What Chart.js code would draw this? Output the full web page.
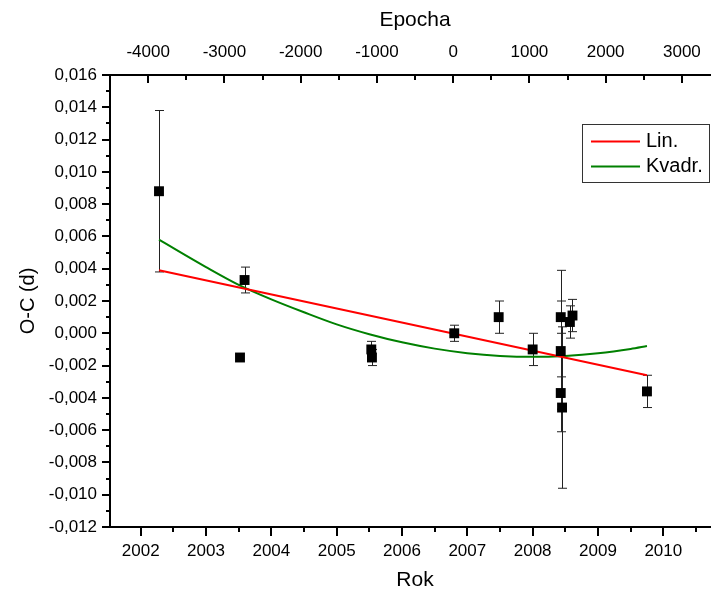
<!DOCTYPE html>
<html>
<head>
<meta charset="utf-8">
<script src="https://cdn.jsdelivr.net/npm/chart.js@4.4.1/dist/chart.umd.min.js"></script>
<style>
  html, body { margin: 0; padding: 0; background: #fff; }
  #wrap { width: 711px; height: 594px; overflow: hidden; }
  canvas { display: block; }
</style>
</head>
<body>
<div id="wrap"><canvas id="ocChart" width="730" height="594"></canvas></div>
<script>
// mereni O-C (rok, hodnota, chyba)
const years = [2002.28, 2003.52, 2003.59, 2005.53, 2005.54, 2006.80, 2007.48, 2008.00, 2008.43, 2008.43, 2008.43, 2008.45, 2008.57, 2008.61, 2009.75];
const ocValues = [0.0088, -0.0015, 0.0033, -0.0010, -0.0015, 0.0000, 0.0010, -0.0010, 0.0010, -0.0011, -0.0037, -0.0046, 0.0007, 0.0011, -0.0036];
const ocErrors = [0.0050, 0, 0.0008, 0.0005, 0.0005, 0.0005, 0.0010, 0.0010, 0.0010, 0.0050, 0.0010, 0.0050, 0.0010, 0.0010, 0.0010];

// linearni fit
const linYears = [2002.28, 2009.75];
const linValues = [0.0039, -0.0026];

// kvadraticky fit
const quadYears = [2002.28, 2003.0, 2003.5, 2004.0, 2004.5, 2005.0, 2005.5, 2006.0, 2006.5, 2007.0, 2007.5, 2008.0, 2008.5, 2009.0, 2009.5, 2009.75];
const quadValues = [0.0058, 0.0041, 0.0030, 0.0021, 0.0013, 0.00055, -0.00006, -0.00056, -0.00095, -0.00123, -0.0014, -0.00146, -0.0014, -0.00124, -0.00097, -0.00079];

// osy
const yearRange = [2001.53, 2010.868];
const epochRange = [-4500, 3500];
const ocRange = [-0.012, 0.016];
const yearTicks = [2002, 2003, 2004, 2005, 2006, 2007, 2008, 2009, 2010];
const epochTicks = [-4000, -3000, -2000, -1000, 0, 1000, 2000, 3000];
const ocTicks = [-0.012, -0.010, -0.008, -0.006, -0.004, -0.002, 0, 0.002, 0.004, 0.006, 0.008, 0.010, 0.012, 0.014, 0.016];

const fmtOC = v => (Math.round(v * 1000) / 1000).toFixed(3).replace('.', ',');

Chart.defaults.font.family = '"Liberation Sans", Arial, sans-serif';
Chart.defaults.color = '#000';

const errorBars = {
  id: 'errorBars',
  beforeDatasetsDraw(chart) {
    const { ctx, scales: { x, y } } = chart;
    ctx.save();
    ctx.strokeStyle = '#222';
    ctx.lineWidth = 1;
    years.forEach((yr, i) => {
      if (!ocErrors[i]) return;
      const px = Math.round(x.getPixelForValue(yr)) + 0.5;
      const top = y.getPixelForValue(ocValues[i] + ocErrors[i]);
      const bot = y.getPixelForValue(ocValues[i] - ocErrors[i]);
      ctx.beginPath();
      ctx.moveTo(px, top); ctx.lineTo(px, bot);
      ctx.moveTo(px - 4.5, top); ctx.lineTo(px + 4.5, top);
      ctx.moveTo(px - 4.5, bot); ctx.lineTo(px + 4.5, bot);
      ctx.stroke();
    });
    ctx.restore();
  }
};

// hlavni a vedlejsi znacky na osach
const tickMarks = {
  id: 'tickMarks',
  afterDraw(chart) {
    const { ctx, chartArea: a, scales } = chart;
    ctx.save();
    ctx.strokeStyle = '#000';
    ctx.lineWidth = 2;
    ctx.beginPath();
    const each = (s, cb) => {
      const first = s.ticks[0].value;
      const step = s.ticks[1].value - first;
      const half = step / 2;
      let v = first - half * Math.floor((first - s.min) / half + 1e-9);
      for (; v <= s.max + 1e-9; v += half) {
        const k = (v - first) / step;
        cb(s.getPixelForValue(v), Math.abs(k - Math.round(k)) < 1e-6);
      }
    };
    each(scales.y, (p, major) => {
      const yy = Math.round(p);
      ctx.moveTo(a.left - (major ? 8 : 4), yy); ctx.lineTo(a.left, yy);
    });
    each(scales.x, (p, major) => {
      const xx = Math.round(p);
      ctx.moveTo(xx, a.bottom); ctx.lineTo(xx, a.bottom + (major ? 9 : 5));
    });
    each(scales.x2, (p, major) => {
      const xx = Math.round(p);
      ctx.moveTo(xx, a.top); ctx.lineTo(xx, a.top + (major ? 8 : 5));
    });
    ctx.stroke();
    ctx.restore();
  }
};

const boxLegend = {
  id: 'boxLegend',
  afterDraw(chart) {
    const { ctx, chartArea: a } = chart;
    const left = a.right - 138, top = a.top + 49, w = 127, h = 58;
    ctx.save();
    ctx.fillStyle = '#fff';
    ctx.fillRect(left, top, w, h);
    ctx.strokeStyle = '#333';
    ctx.lineWidth = 1;
    ctx.strokeRect(left + 0.5, top + 0.5, w, h);
    const items = chart.data.datasets.filter(d => d.showLine);
    items.forEach((d, i) => {
      const yy = top + 17.5 + i * 25;
      ctx.strokeStyle = d.borderColor;
      ctx.lineWidth = 2;
      ctx.beginPath();
      ctx.moveTo(left + 9, yy); ctx.lineTo(left + 58, yy);
      ctx.stroke();
      ctx.fillStyle = '#000';
      ctx.font = '20px "Liberation Sans", Arial, sans-serif';
      ctx.textBaseline = 'middle';
      ctx.fillText(d.label, left + 64, yy);
    });
    ctx.restore();
  }
};

const axisBase = {
  type: 'linear',
  grid: { display: false, drawTicks: false },
  border: { display: true, color: '#000', width: 2 },
};

new Chart(document.getElementById('ocChart'), {
  type: 'scatter',
  data: {
    datasets: [
      {
        label: 'O-C',
        data: years.map((x, i) => ({ x, y: ocValues[i] })),
        pointStyle: 'rect',
        pointRadius: 7,
        backgroundColor: '#000',
        borderWidth: 0,
        order: 0
      },
      {
        label: 'Lin.',
        data: linYears.map((x, i) => ({ x, y: linValues[i] })),
        showLine: true,
        borderColor: '#ff0000',
        borderWidth: 2,
        pointRadius: 0,
        order: 1
      },
      {
        label: 'Kvadr.',
        data: quadYears.map((x, i) => ({ x, y: quadValues[i] })),
        showLine: true,
        borderColor: '#008000',
        borderWidth: 2,
        pointRadius: 0,
        cubicInterpolationMode: 'monotone',
        order: 2
      }
    ]
  },
  options: {
    responsive: false,
    animation: false,
    events: [],
    layout: { padding: { left: 0, right: 10, top: 0, bottom: 0 } },
    plugins: { legend: { display: false }, tooltip: { enabled: false } },
    scales: {
      x: {
        ...axisBase,
        position: 'bottom',
        min: yearRange[0],
        max: yearRange[1],
        afterBuildTicks: s => { s.ticks = yearTicks.map(v => ({ value: v })); },
        afterFit: s => { s.height = 67; },
        ticks: { padding: 14, font: { size: 17 }, color: '#000', callback: v => String(v) },
        title: { display: true, text: 'Rok', font: { size: 21 }, color: '#000', padding: { top: 0, bottom: 1 } }
      },
      x2: {
        ...axisBase,
        position: 'top',
        display: true,
        min: epochRange[0],
        max: epochRange[1],
        afterBuildTicks: s => { s.ticks = epochTicks.map(v => ({ value: v })); },
        afterFit: s => { s.height = 75; },
        ticks: { padding: 12, font: { size: 17 }, color: '#000', callback: v => String(v) },
        title: { display: true, text: 'Epocha', font: { size: 21 }, color: '#000', padding: { top: 8, bottom: 0 } }
      },
      y: {
        ...axisBase,
        position: 'left',
        min: ocRange[0],
        max: ocRange[1],
        afterBuildTicks: s => { s.ticks = ocTicks.map(v => ({ value: v })); },
        afterFit: s => { s.width = 110; },
        ticks: { padding: 13, font: { size: 17 }, color: '#000', callback: v => fmtOC(v) },
        title: { display: true, text: 'O-C (d)', font: { size: 20 }, color: '#000', padding: { top: 16, bottom: 0 } }
      }
    }
  },
  plugins: [errorBars, tickMarks, boxLegend]
});
</script>
</body>
</html>
